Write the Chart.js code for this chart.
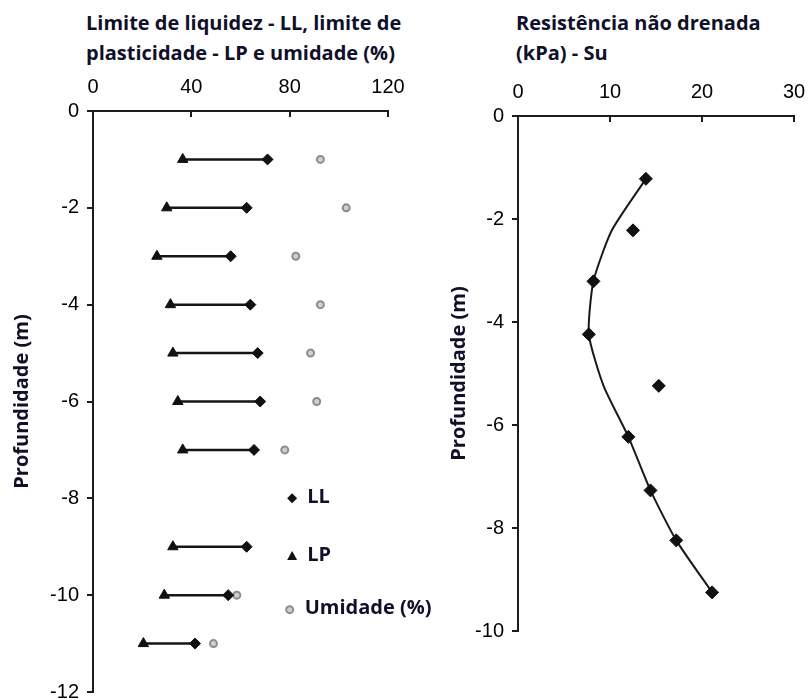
<!DOCTYPE html>
<html>
<head>
<meta charset="utf-8">
<script src="https://cdn.jsdelivr.net/npm/chart.js@4.4.1/dist/chart.umd.min.js"></script>
<style>
  body { margin: 0; background: #fff; width: 810px; height: 700px; position: relative; overflow: hidden; }
  canvas { position: absolute; top: 0; }
  #grafLimites { left: 0; }
  #grafSu { left: 440px; }
  .titulo { position: absolute; top: 8px; font: bold 20px "Open Sans", sans-serif; line-height: 30px; color: #10102a; white-space: nowrap; }
</style>
</head>
<body>
<div class="titulo" style="left:86px">Limite de liquidez - LL, limite de<br>plasticidade - LP e umidade (%)</div>
<div class="titulo" style="left:516px">Resistência não drenada<br>(kPa) - Su</div>
<canvas id="grafLimites" width="440" height="700"></canvas>
<canvas id="grafSu" width="370" height="700"></canvas>
<script>
// dados - gráfico da esquerda
const profundidade = [-1, -2, -3, -4, -5, -6, -7, -9, -10, -11];
const limiteLL = [71, 62.5, 56, 64, 67, 68, 65.5, 62.5, 55, 41.5];
const limiteLP = [36.5, 30, 26, 31.5, 32.5, 34.5, 36.5, 32.5, 29, 20.5];
const umidade = [92.5, 103, 82.5, 92.5, 88.5, 91, 78, null, 58.5, 49];
const ticksLimites = [0, 40, 80, 120];
const ticksProf1 = [0, -2, -4, -6, -8, -10, -12];

// dados - gráfico da direita
const profSu = [-1.22, -2.22, -3.21, -4.24, -5.24, -6.23, -7.27, -8.24, -9.25];
const su = [13.9, 12.5, 8.2, 7.7, 15.3, 12.0, 14.4, 17.2, 21.1];
const suTendencia = [13.9, 10.2, 8.2, 7.7, 9.3, 12.0, 14.4, 17.2, 21.1];
const ticksSu = [0, 10, 20, 30];
const ticksProf2 = [0, -2, -4, -6, -8, -10];

const preto = '#1c1c1c';
const corTitulo = '#10102a';
const fonteTick = { family: '"Liberation Sans", Arial, sans-serif', size: 20 };
const fonteTitulo = { family: '"Open Sans", sans-serif', size: 20, weight: 'bold' };

function pares(xs, ys) {
  return xs.map((x, i) => ({ x: x, y: ys[i] })).filter(p => p.x !== null);
}

function eixoX(ticks, altura) {
  return {
    type: 'linear',
    position: 'top',
    min: ticks[0],
    max: ticks[ticks.length - 1],
    afterBuildTicks: s => { s.ticks = ticks.map(v => ({ value: v })); },
    afterFit: s => { s.height = altura; s.paddingLeft = 0; s.paddingRight = 0; },
    border: { display: true, color: preto, width: 2 },
    grid: { drawOnChartArea: false, tickLength: -6, color: preto, lineWidth: 2 },
    ticks: { font: fonteTick, color: '#000', padding: 18, maxRotation: 0 }
  };
}

function eixoY(ticks, largura, padTitulo) {
  return {
    type: 'linear',
    min: ticks[ticks.length - 1],
    max: ticks[0],
    afterBuildTicks: s => { s.ticks = ticks.map(v => ({ value: v })); },
    afterFit: s => { s.width = largura; s.paddingTop = 0; s.paddingBottom = 0; },
    border: { display: true, color: preto, width: 2 },
    grid: { drawOnChartArea: false, tickLength: 6, color: preto, lineWidth: 2 },
    ticks: { font: fonteTick, color: '#000', padding: 8 },
    title: { display: true, text: 'Profundidade (m)', font: fonteTitulo, color: corTitulo, padding: { top: padTitulo, bottom: 0 } }
  };
}

// segmentos LP -> LL, separados por null
const segmentos = [];
profundidade.forEach((d, i) => {
  segmentos.push({ x: limiteLP[i], y: d }, { x: limiteLL[i], y: d }, { x: null, y: null });
});

// legenda desenhada dentro da área do gráfico
const legendaItens = [
  { texto: 'LL', estilo: 'diamante', x: 81, y: -8.0 },
  { texto: 'LP', estilo: 'triangulo', x: 81, y: -9.2 },
  { texto: 'Umidade (%)', estilo: 'circulo', x: 80, y: -10.3 }
];

function marcador(ctx, estilo, x, y) {
  ctx.beginPath();
  if (estilo === 'diamante') {
    ctx.moveTo(x, y - 5); ctx.lineTo(x + 5, y); ctx.lineTo(x, y + 5); ctx.lineTo(x - 5, y);
    ctx.closePath(); ctx.fillStyle = '#111'; ctx.fill();
  } else if (estilo === 'triangulo') {
    ctx.moveTo(x, y - 5.5); ctx.lineTo(x + 5, y + 3.5); ctx.lineTo(x - 5, y + 3.5);
    ctx.closePath(); ctx.fillStyle = '#111'; ctx.fill();
  } else {
    ctx.arc(x, y, 3.5, 0, Math.PI * 2);
    ctx.fillStyle = '#cfcfcf'; ctx.fill();
    ctx.lineWidth = 2; ctx.strokeStyle = '#8c8c8c'; ctx.stroke();
  }
}

const pluginLegenda = {
  id: 'legendaInterna',
  afterDatasetsDraw(chart) {
    const ctx = chart.ctx;
    const sx = chart.scales.x, sy = chart.scales.y;
    ctx.save();
    legendaItens.forEach(item => {
      const px = sx.getPixelForValue(item.x);
      const py = sy.getPixelForValue(item.y);
      marcador(ctx, item.estilo, px, py);
      ctx.fillStyle = corTitulo;
      ctx.font = 'bold 20px "Open Sans", sans-serif';
      ctx.textBaseline = 'middle';
      ctx.textAlign = 'left';
      ctx.fillText(item.texto, px + 15, py - 1);
    });
    ctx.restore();
  }
};

new Chart(document.getElementById('grafLimites'), {
  type: 'scatter',
  data: {
    datasets: [
      {
        label: 'LP-LL',
        data: segmentos,
        showLine: true,
        spanGaps: false,
        borderColor: '#151515',
        borderWidth: 2.5,
        pointRadius: 0,
        order: 5
      },
      {
        label: 'LL',
        data: pares(limiteLL, profundidade),
        pointStyle: 'rectRot',
        pointRadius: 5.5,
        backgroundColor: '#111',
        borderColor: '#111',
        borderWidth: 1,
        order: 1
      },
      {
        label: 'LP',
        data: pares(limiteLP, profundidade),
        pointStyle: 'triangle',
        pointRadius: 6,
        backgroundColor: '#111',
        borderColor: '#111',
        borderWidth: 1,
        order: 1
      },
      {
        label: 'Umidade (%)',
        data: pares(umidade, profundidade),
        pointStyle: 'circle',
        pointRadius: 3.5,
        backgroundColor: '#cfcfcf',
        borderColor: '#8c8c8c',
        borderWidth: 2,
        order: 1
      }
    ]
  },
  options: {
    responsive: false,
    animation: false,
    layout: { padding: { left: 0, top: 0, right: 52, bottom: 8 } },
    plugins: { legend: { display: false }, tooltip: { enabled: false } },
    scales: {
      x: eixoX(ticksLimites, 111),
      y: eixoY(ticksProf1, 93, 10)
    }
  },
  plugins: [pluginLegenda]
});

new Chart(document.getElementById('grafSu'), {
  type: 'scatter',
  data: {
    datasets: [
      {
        label: 'Tendência',
        data: pares(suTendencia, profSu),
        showLine: true,
        tension: 0.2,
        borderColor: '#1a1a1a',
        borderWidth: 2,
        pointRadius: 0,
        order: 5
      },
      {
        label: 'Su',
        data: pares(su, profSu),
        pointStyle: 'rectRot',
        pointRadius: 6.5,
        backgroundColor: '#111',
        borderColor: '#111',
        borderWidth: 1,
        order: 1
      }
    ]
  },
  options: {
    responsive: false,
    animation: false,
    layout: { padding: { left: 0, top: 0, right: 16, bottom: 69 } },
    plugins: { legend: { display: false }, tooltip: { enabled: false } },
    scales: {
      x: eixoX(ticksSu, 116),
      y: eixoY(ticksProf2, 78, 7)
    }
  }
});
</script>
</body>
</html>
